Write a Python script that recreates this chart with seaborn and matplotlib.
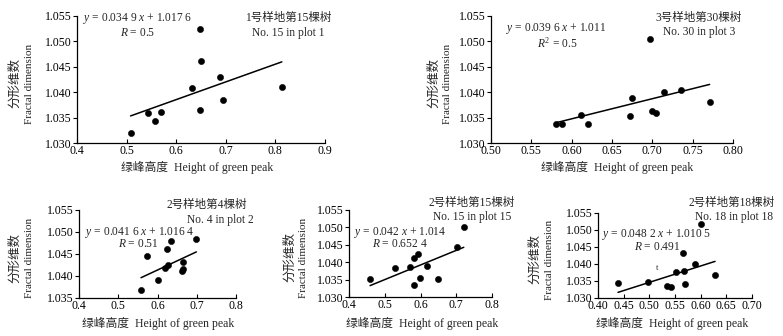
import numpy as np
import pandas as pd
import matplotlib
matplotlib.use("Agg")
import matplotlib.pyplot as plt
import seaborn as sns
from matplotlib.ticker import FormatStrFormatter, MultipleLocator

# data
p1_x = [0.508, 0.543, 0.557, 0.569, 0.631, 0.647, 0.647, 0.650, 0.689, 0.695, 0.813]
p1_y = [1.0320, 1.0359, 1.0343, 1.0361, 1.0408, 1.0524, 1.0365, 1.0461, 1.0429, 1.0385, 1.0410]

p2_x = [0.581, 0.588, 0.612, 0.620, 0.672, 0.675, 0.697, 0.699, 0.704, 0.714, 0.736, 0.771]
p2_y = [1.0338, 1.0337, 1.0355, 1.0337, 1.0354, 1.0389, 1.0505, 1.0363, 1.0359, 1.0401, 1.0405, 1.0380]

p3_x = [0.558, 0.573, 0.601, 0.618, 0.624, 0.627, 0.634, 0.662, 0.666, 0.664, 0.699]
p3_y = [1.0368, 1.0445, 1.0392, 1.0419, 1.0462, 1.0425, 1.0479, 1.0412, 1.0431, 1.0415, 1.0483]

p4_x = [0.459, 0.529, 0.571, 0.582, 0.583, 0.592, 0.599, 0.617, 0.648, 0.702, 0.721]
p4_y = [1.0353, 1.0383, 1.0387, 1.0413, 1.0335, 1.0425, 1.0356, 1.0389, 1.0353, 1.0445, 1.0500]

p5_x = [0.439, 0.498, 0.534, 0.543, 0.552, 0.565, 0.568, 0.570, 0.589, 0.601, 0.628]
p5_y = [1.0344, 1.0346, 1.0334, 1.0332, 1.0375, 1.0432, 1.0380, 1.0341, 1.0401, 1.0518, 1.0369]

slopes = [0.0349, 0.0396, 0.0416, 0.042, 0.0482]
intercepts = [1.0176, 1.011, 1.0164, 1.014, 1.0105]

titles_cn = ["1号样地第15棵树", "3号样地第30棵树", "2号样地第4棵树", "2号样地第15棵树", "2号样地第18棵树"]
titles_en = ["No. 15 in plot 1", "No. 30 in plot 3", "No. 4 in plot 2", "No. 15 in plot 15", "No. 18 in plot 18"]
eqs = ["$y$ = 0.034 9 $x$ + 1.017 6", "$y$ = 0.039 6 $x$ + 1.011", "$y$ = 0.041 6 $x$ + 1.016 4",
       "$y$ = 0.042 $x$ + 1.014", "$y$ = 0.048 2 $x$ + 1.010 5"]
rs = ["$R$ = 0.5", "$R^2$ = 0.5", "$R$ = 0.51", "$R$ = 0.652 4", "$R$ = 0.491"]

sns.set_theme(style="ticks")
plt.rcParams['font.family'] = ['Liberation Serif', 'Noto Sans CJK SC']
plt.rcParams['mathtext.fontset'] = 'custom'
plt.rcParams['mathtext.rm'] = 'Liberation Serif'
plt.rcParams['mathtext.it'] = 'Liberation Serif:italic'

W, H = 783, 336
fig = plt.figure(figsize=(W / 100, H / 100), dpi=100)


def px(x, y):
    return x / W, 1 - y / H


# panel layout in pixels: left, right, top, bottom, xlim, ylim, xstep, xfmt
panels = [
    dict(box=(77, 325, 16, 143), xlim=(0.4, 0.9), ylim=(1.030, 1.055), xstep=0.1, xfmt='%.1f',
         title=(288, 18, 288, 33), eq=(138, 19, 138, 33), ylab=(15, 30), xlab=(197, 167)),
    dict(box=(491, 733, 16, 143), xlim=(0.50, 0.80), ylim=(1.030, 1.055), xstep=0.05, xfmt='%.2f',
         title=(699, 18, 699, 32), eq=(556, 29, 557, 43), ylab=(434, 448), xlab=(617, 167)),
    dict(box=(79, 236, 210, 298), xlim=(0.4, 0.8), ylim=(1.035, 1.055), xstep=0.1, xfmt='%.1f',
         title=(207, 205, 220, 220), eq=(140, 233, 138, 244), ylab=(15, 30), xlab=(158, 323)),
    dict(box=(349, 492, 210, 297), xlim=(0.4, 0.8), ylim=(1.030, 1.055), xstep=0.1, xfmt='%.1f',
         title=(472, 203, 472, 217), eq=(400, 232, 400, 244), ylab=(290, 304), xlab=(422, 323)),
    dict(box=(598, 752, 213, 298), xlim=(0.40, 0.70), ylim=(1.030, 1.055), xstep=0.05, xfmt='%.2f',
         title=(732, 203, 734, 217), eq=(657, 235, 657, 247), ylab=(535, 550), xlab=(672, 323)),
]
xs = [p1_x, p2_x, p3_x, p4_x, p5_x]
ys = [p1_y, p2_y, p3_y, p4_y, p5_y]

for i, p in enumerate(panels):
    l, r, t, b = p['box']
    ax = fig.add_axes([l / W, 1 - b / H, (r - l) / W, (b - t) / H])
    df = pd.DataFrame({'x': xs[i], 'y': ys[i]})
    sns.scatterplot(data=df, x='x', y='y', color='black', edgecolor='black', s=20, ax=ax, zorder=3)
    lx = np.array([df['x'].min(), df['x'].max()])
    sns.lineplot(x=lx, y=slopes[i] * lx + intercepts[i], color='black', linewidth=1.1, ax=ax)
    ax.set_xlim(*p['xlim'])
    ax.set_ylim(*p['ylim'])
    ax.xaxis.set_major_locator(MultipleLocator(p['xstep']))
    ax.yaxis.set_major_locator(MultipleLocator(0.005))
    ax.xaxis.set_major_formatter(FormatStrFormatter(p['xfmt']))
    ax.yaxis.set_major_formatter(FormatStrFormatter('%.3f'))
    ax.tick_params(axis='x', direction='in', length=3, width=0.8, labelsize=8.5, pad=1.5, colors='black')
    ax.tick_params(axis='y', direction='out', length=3, width=0.8, labelsize=8.5, pad=1, colors='black')
    for s in ['left', 'bottom']:
        ax.spines[s].set_color('black')
        ax.spines[s].set_linewidth(0.9)
    sns.despine(ax=ax)
    ax.set_xlabel('')
    ax.set_ylabel('')

    tx1, ty1, tx2, ty2 = p['title']
    fig.text(*px(tx1, ty1), titles_cn[i], ha='center', va='center', fontsize=8.3)
    fig.text(*px(tx2, ty2), titles_en[i], ha='center', va='center', fontsize=8.3)
    ex1, ey1, ex2, ey2 = p['eq']
    fig.text(*px(ex1, ey1), eqs[i], ha='center', va='center', fontsize=8.3)
    fig.text(*px(ex2, ey2), rs[i], ha='center', va='center', fontsize=8.3)

    yc = (t + b) / 2 + 4
    fig.text(*px(p['ylab'][0], yc), '分形维数', rotation=90, ha='center', va='center', fontsize=9)
    fig.text(*px(p['ylab'][1], yc), 'Fractal dimension', rotation=90, ha='center', va='center', fontsize=8)
    fig.text(*px(p['xlab'][0], p['xlab'][1]), '绿峰高度  Height of green peak', ha='center', va='center',
             fontsize=8.5)

# stray mark present in the original scan
fig.text(*px(657, 268), 't', ha='center', va='center', fontsize=6)

fig.savefig('out.png', dpi=100)
